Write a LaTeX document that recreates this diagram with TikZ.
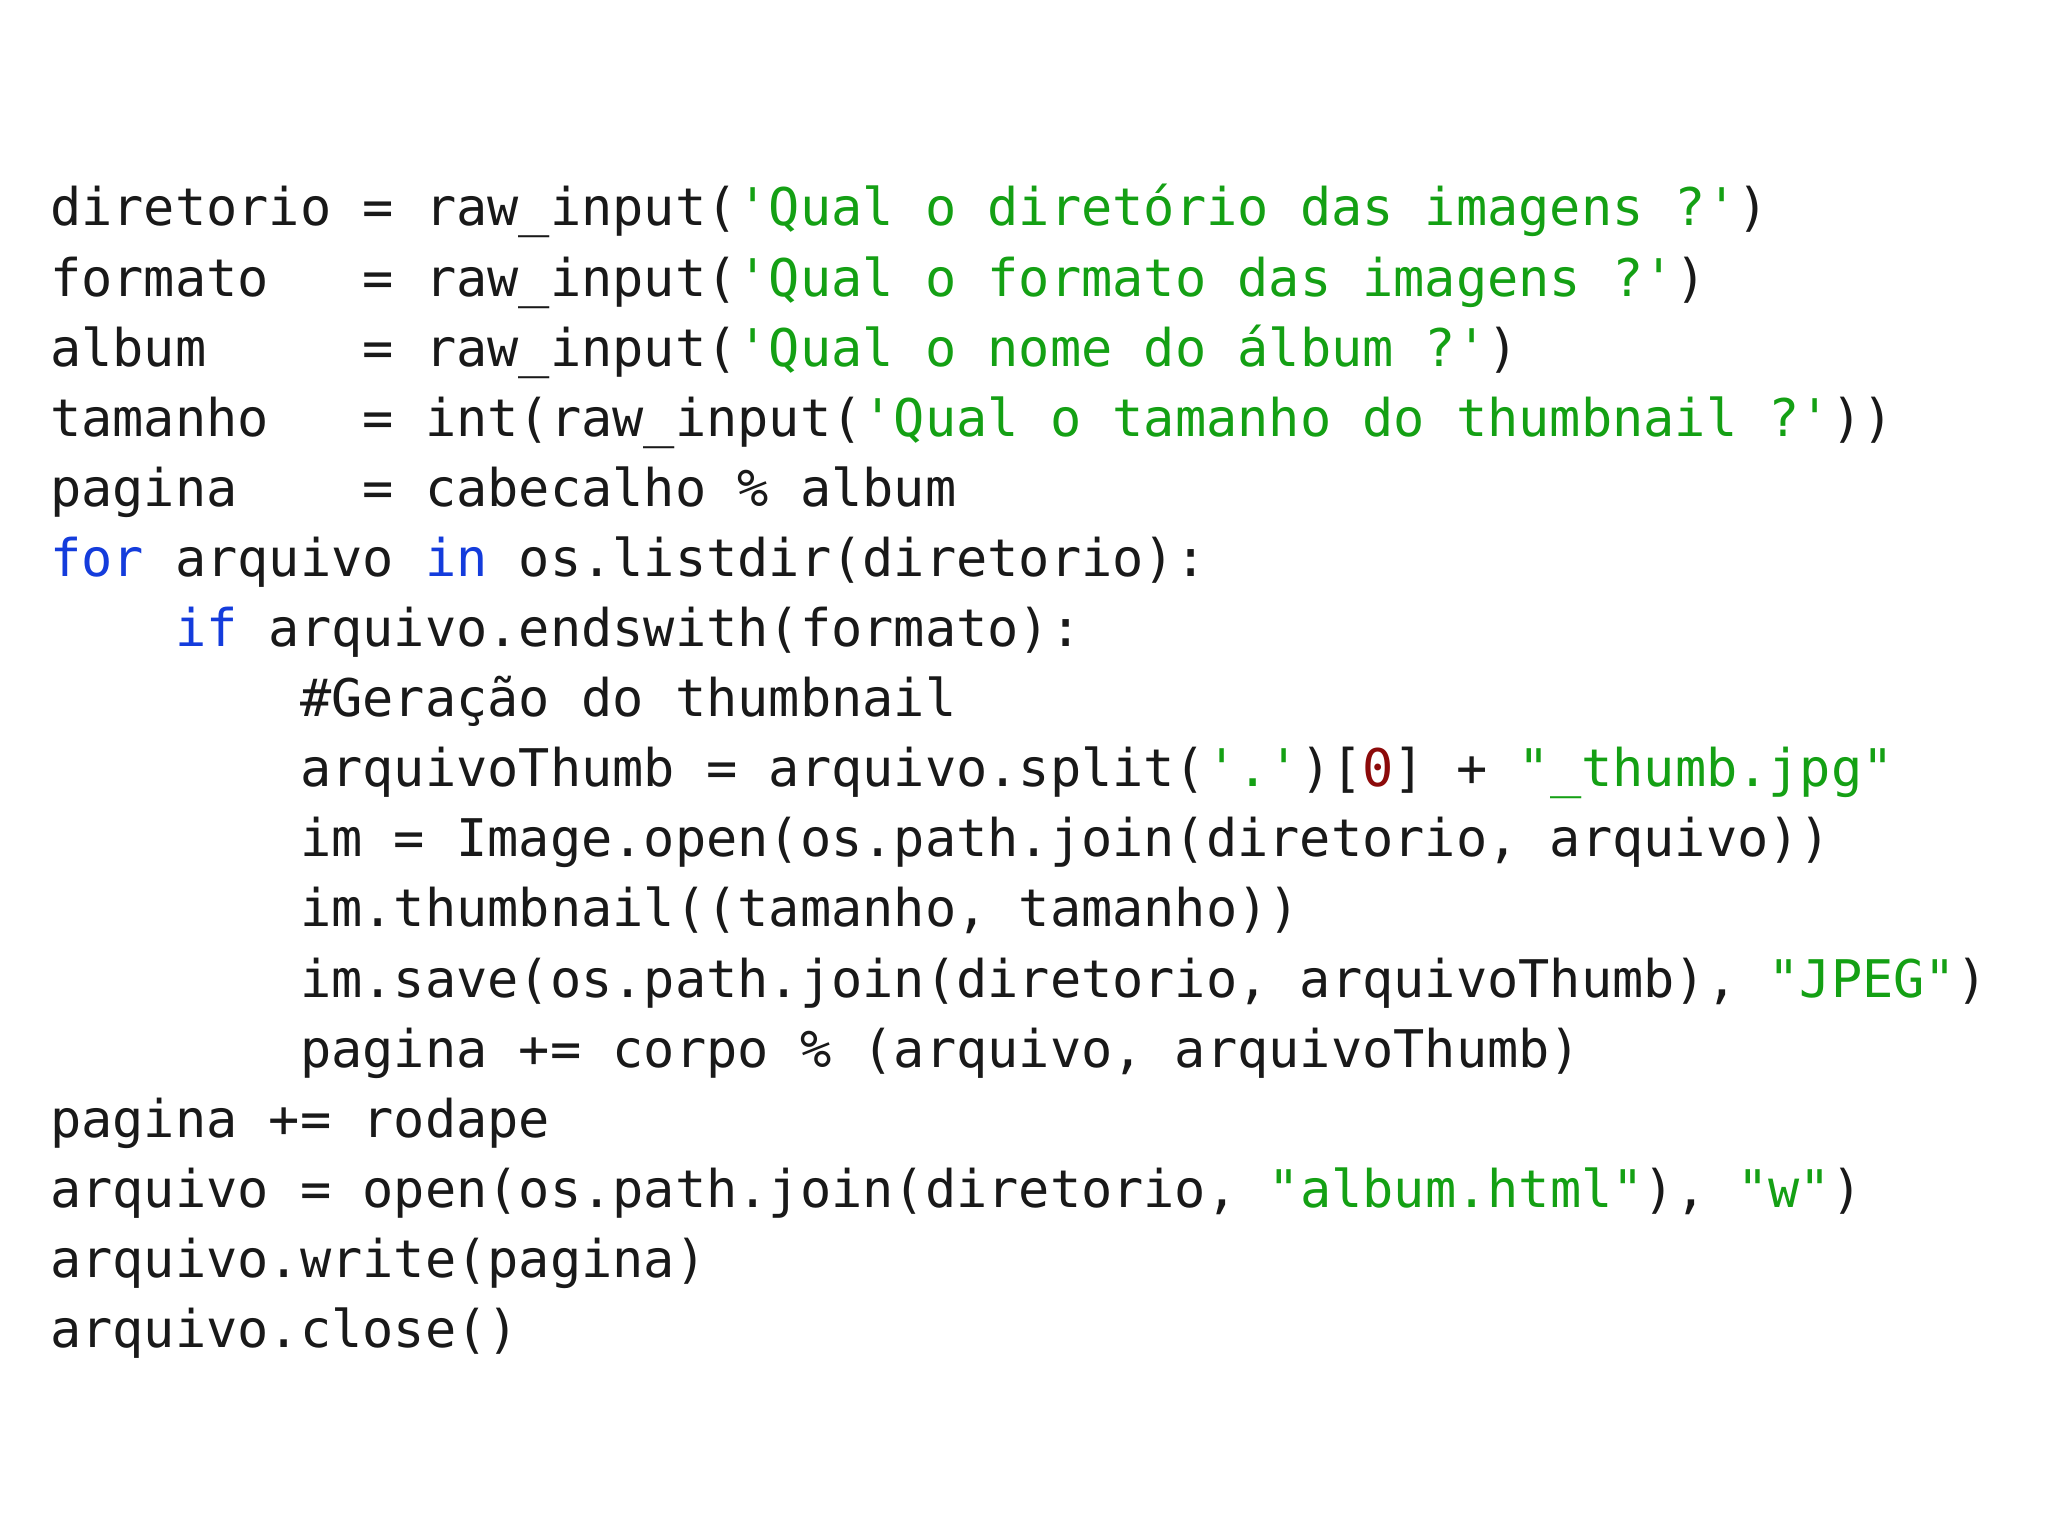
\documentclass[tikz,border=0pt]{standalone}
\usepackage{fontspec}
\setmonofont{DejaVu Sans Mono}
\definecolor{strgreen}{RGB}{20,160,20}
\definecolor{kwblue}{RGB}{20,60,220}
\definecolor{numred}{RGB}{140,10,10}
\newcommand\gs[1]{\textcolor{strgreen}{#1}}
\newcommand\kw[1]{\textcolor{kwblue}{#1}}
\newcommand\nr[1]{\textcolor{numred}{#1}}
\tikzset{codeline/.style={inner sep=0pt,anchor=base west,text=black!90,font=\ttfamily\fontsize{51.9}{60}\selectfont}}
\begin{document}
\begin{tikzpicture}[x=1pt,y=1pt]
\useasboundingbox[fill=white] (0,0) rectangle (2048,1536);
\def\ls{70.1}
\node[codeline] (l0) at (50,{1536-226-0*\ls}) {diretorio~=~raw\_input(\gs{'Qual~o~diretório~das~imagens~?'})};
\node[codeline] (l1) at (50,{1536-226-1*\ls}) {formato~~~=~raw\_input(\gs{'Qual~o~formato~das~imagens~?'})};
\node[codeline] (l2) at (50,{1536-226-2*\ls}) {album~~~~~=~raw\_input(\gs{'Qual~o~nome~do~álbum~?'})};
\node[codeline] (l3) at (50,{1536-226-3*\ls}) {tamanho~~~=~int(raw\_input(\gs{'Qual~o~tamanho~do~thumbnail~?'}))};
\node[codeline] (l4) at (50,{1536-226-4*\ls}) {pagina~~~~=~cabecalho~\%~album};
\node[codeline] (l5) at (50,{1536-226-5*\ls}) {\kw{for}~arquivo~\kw{in}~os.listdir(diretorio):};
\node[codeline] (l6) at (50,{1536-226-6*\ls}) {~~~~\kw{if}~arquivo.endswith(formato):};
\node[codeline] (l7) at (50,{1536-226-7*\ls}) {~~~~~~~~\#Geração~do~thumbnail};
\node[codeline] (l8) at (50,{1536-226-8*\ls}) {~~~~~~~~arquivoThumb~=~arquivo.split(\gs{'.'})[\nr{0}]~+~\gs{"\_thumb.jpg"}};
\node[codeline] (l9) at (50,{1536-226-9*\ls}) {~~~~~~~~im~=~Image.open(os.path.join(diretorio,~arquivo))};
\node[codeline] (l10) at (50,{1536-226-10*\ls}) {~~~~~~~~im.thumbnail((tamanho,~tamanho))};
\node[codeline] (l11) at (50,{1536-226-11*\ls}) {~~~~~~~~im.save(os.path.join(diretorio,~arquivoThumb),~\gs{"JPEG"})};
\node[codeline] (l12) at (50,{1536-226-12*\ls}) {~~~~~~~~pagina~+=~corpo~\%~(arquivo,~arquivoThumb)};
\node[codeline] (l13) at (50,{1536-226-13*\ls}) {pagina~+=~rodape};
\node[codeline] (l14) at (50,{1536-226-14*\ls}) {arquivo~=~open(os.path.join(diretorio,~\gs{"album.html"}),~\gs{"w"})};
\node[codeline] (l15) at (50,{1536-226-15*\ls}) {arquivo.write(pagina)};
\node[codeline] (l16) at (50,{1536-226-16*\ls}) {arquivo.close()};
\end{tikzpicture}
\end{document}
